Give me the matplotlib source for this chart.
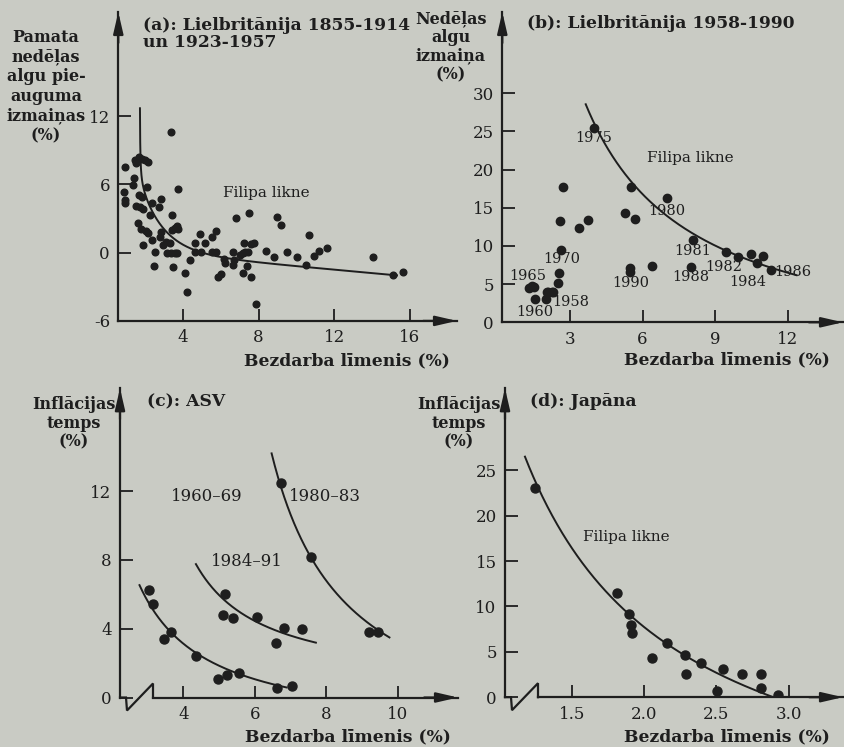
import numpy as np
import matplotlib
matplotlib.use("Agg")
import matplotlib.pyplot as plt

plt.rcParams["font.family"] = ["DejaVu Serif"]
plt.rcParams["axes.unicode_minus"] = False

W, H = 845, 747
BG = "#c9cbc4"
INK = "#1e1e1e"

# ---------------- data ----------------
# (a) UK 1855-1914 and 1923-1957: unemployment (%) vs change in basic weekly wages (%)
uk_early_unemp = [0.94, 0.87, 0.94, 0.94, 1.40, 1.34, 1.47, 1.52, 1.64, 1.79,
                  1.96, 2.14, 1.64, 1.79, 2.10, 1.52, 1.70, 1.87, 2.32, 2.81,
                  2.70, 2.23, 1.61, 1.75, 2.05, 2.14, 1.87, 2.32, 2.49, 2.46,
                  2.81, 2.76, 2.93, 3.11, 3.29, 3.38, 3.55, 3.69, 3.73, 3.41,
                  3.34, 3.73, 3.16, 3.34, 3.55, 3.69, 3.46, 4.08, 4.22, 4.35,
                  4.65, 4.93, 4.88, 4.65, 5.14, 5.53, 5.76, 5.53, 5.76, 5.85,
                  5.99, 6.17, 6.20, 6.64, 6.70, 7.00, 7.17, 6.80, 7.51, 8.96,
                  9.19, 10.69, 6.66, 7.23, 7.58, 7.76, 7.28, 7.45, 7.19, 7.58,
                  7.40, 8.39, 8.82, 9.52, 10.05, 10.51, 10.94, 11.22, 11.64, 14.04,
                  15.10, 15.67, 7.86]
uk_early_wage = [7.55, 5.35, 4.62, 4.33, 6.53, 5.94, 8.14, 7.84, 8.43, 8.20,
                 8.14, 7.99, 5.06, 4.91, 5.79, 4.09, 3.98, 3.80, 4.39, 4.68,
                 3.98, 3.30, 2.63, 2.04, 1.93, 1.69, 0.67, 1.11, 0.08, -1.18,
                 1.84, 1.40, 0.67, 0.96, 0.81, 1.99, 2.13, 2.34, 2.04, 3.30,
                 10.57, 5.56, -0.01, -0.01, -0.01, -0.01, -1.29, -1.76, -3.46, -0.65,
                 0.08, 0.08, 1.61, 0.87, 0.87, 1.40, 1.93, 0.08, 0.08, -2.11,
                 -1.88, -0.59, -0.94, 0.08, -0.65, -0.21, -0.06, 3.01, 3.45, 3.10,
                 2.43, 1.55, -1.09, 0.87, 0.73, 0.82, 0.08, 0.08, -1.76, -2.12,
                 -1.18, 0.14, -0.42, 0.08, -0.36, -1.09, -0.30, 0.14, 0.38, -0.36,
                 -1.97, -1.73, -4.55]

# (b) UK 1958-1990
uk_late_unemp = [1.32, 1.42, 1.51, 1.55, 2.04, 2.11, 2.24, 2.31, 2.01, 2.52,
                 2.55, 2.62, 2.59, 2.70, 3.39, 3.76, 3.98, 5.28, 5.51, 5.69,
                 5.48, 5.48, 6.40, 7.02, 8.07, 7.99, 9.45, 9.96, 10.47, 10.72,
                 10.97, 11.31]
uk_late_wage = [4.45, 4.76, 4.67, 3.06, 3.93, 4.02, 4.02, 3.93, 3.06, 5.11,
                6.42, 9.48, 13.23, 17.77, 12.40, 13.41, 25.50, 14.28, 17.77, 13.49,
                7.07, 6.64, 7.42, 16.24, 10.79, 7.21, 9.17, 8.60, 8.91, 7.73,
                8.69, 6.81]
uk_late_years = ["1965", "1960", "1958", "1970", "1975", "1990", "1980",
                 "1981", "1988", "1982", "1984", "1986"]
uk_late_year_pos = [(1.24, 6.07), (1.55, 1.40), (3.04, 2.71), (2.66, 8.25),
                    (3.99, 24.1), (5.51, 5.20), (7.02, 14.6), (8.07, 9.39),
                    (7.99, 5.90), (9.34, 7.29), (10.37, 5.33), (12.23, 6.64)]

# (c) USA: unemployment (%) vs inflation (%)
us_6069_unemp = [3.05, 3.14, 3.47, 3.64, 4.35, 4.98, 5.21, 5.57, 6.61, 7.03]
us_6069_infl = [6.25, 5.42, 3.38, 3.83, 2.41, 1.06, 1.31, 1.40, 0.53, 0.67]
us_8491_unemp = [5.16, 5.10, 5.40, 6.07, 6.58, 6.82, 7.33]
us_8491_infl = [6.02, 4.80, 4.60, 4.66, 3.15, 4.02, 3.97]
us_8083_unemp = [6.73, 7.57, 9.21, 9.46]
us_8083_infl = [12.45, 8.15, 3.79, 3.79]

# (d) Japan
jp_unemp = [1.243, 1.813, 1.894, 1.906, 1.915, 2.056, 2.155, 2.282, 2.287, 2.393,
            2.501, 2.548, 2.675, 2.809, 2.809, 2.929]
jp_infl = [23.02, 11.52, 9.14, 7.97, 7.05, 4.29, 5.94, 4.66, 2.53, 3.81,
           0.69, 3.08, 2.53, 2.56, 0.98, 0.25]

# fitted Phillips curves
def curve_a(x):
    return 0.29 - 0.15 * x + 5.4 * np.exp(-0.8 * (x - 1.82)) + 0.12 / (x - 1.69)

def curve_b(x):
    return -5.0 + 146.0 / (x + 0.7)

def curve_c60(x):
    return -2.19 + 16.75 / (x - 0.85)

def curve_c84(x):
    return 0.54 + 14.07 / (x - 2.4)

def curve_c80(x):
    return -3.22 + 36.05 / (x - 4.4)

def curve_d(x):
    return -16.22 + 45.0 / (x - 0.12)


# ---------------- figure ----------------
fig = plt.figure(figsize=(W / 100, H / 100), dpi=100, facecolor=BG)


def panel(left, top, right, bottom):
    ax = fig.add_axes([left / W, 1 - bottom / H, (right - left) / W, (bottom - top) / H])
    ax.set_facecolor("none")
    for s in ("top", "right"):
        ax.spines[s].set_visible(False)
    for s in ("left", "bottom"):
        ax.spines[s].set_color(INK)
        ax.spines[s].set_linewidth(1.6)
    ax.tick_params(direction="in", length=9, width=1.3, colors=INK,
                   labelsize=12, pad=6)
    return ax


def arrows(ax):
    style = "-|>,head_length=1.3,head_width=0.3"
    kw = dict(arrowstyle=style, color=INK, lw=1.6, shrinkA=0, shrinkB=0)
    ax.annotate("", xy=(0, 1), xytext=(0, 0.9), xycoords="axes fraction",
                arrowprops=kw, annotation_clip=False)
    ax.annotate("", xy=(1, 0), xytext=(0.9, 0), xycoords="axes fraction",
                arrowprops=kw, annotation_clip=False)


def axis_break(ax, w_px, h_px):
    # broken x-axis: zigzag between the vertical axis and the scale
    bx = np.array([0, 6, 7, 33, 33]) / w_px
    by = np.array([0, 0, -13, 14, 0]) / h_px
    ax.plot(bx, by, color=INK, lw=1.6, transform=ax.transAxes, clip_on=False,
            solid_joinstyle="miter")
    ax.spines["bottom"].set_visible(False)
    ax.plot([33 / w_px, 1], [0, 0], color=INK, lw=1.6, transform=ax.transAxes,
            clip_on=False)


def fig_text(px, py, s, **kw):
    kw.setdefault("color", INK)
    fig.text(px / W, 1 - py / H, s, **kw)


dot = dict(color=INK, linestyle="none", marker="o")

# ---- (a)
ax = panel(118.3, 12, 457, 320.9)
ax.set_xlim(0.56, 18.51)
ax.set_ylim(-6, 21.14)
ax.set_xticks([4, 8, 12, 16])
ax.set_yticks([-6, 0, 6, 12])
ax.plot(uk_early_unemp, uk_early_wage, markersize=4.8, **dot)
xa = 1.69 + np.geomspace(0.004, 13.64, 900)
ya = curve_a(xa)
keep = ya <= 12.7
ax.plot(xa[keep], ya[keep], color=INK, lw=1.4)
ax.text(8.43, 5.26, "Filipa likne", fontsize=11, ha="center", va="center", color=INK)
arrows(ax)

# ---- (b)
ax = panel(502.3, 12, 843, 322.3)
ax.set_xlim(0.2, 14.29)
ax.set_ylim(0, 40.65)
ax.set_xticks([3, 6, 9, 12])
ax.set_yticks([0, 5, 10, 15, 20, 25, 30])
ax.plot(uk_late_unemp, uk_late_wage, markersize=6.0, **dot)
xb = np.linspace(3.65, 12.37, 300)
ax.plot(xb, curve_b(xb), color=INK, lw=1.4)
for yr, (tx, ty) in zip(uk_late_years, uk_late_year_pos):
    ax.text(tx, ty, yr, fontsize=10.5, ha="center", va="center", color=INK)
ax.text(7.96, 21.5, "Filipa likne", fontsize=11, ha="center", va="center", color=INK)
arrows(ax)

# ---- (c)
ax = panel(120, 388.3, 458, 697.5)
ax.set_xlim(2.224, 11.69)
ax.set_ylim(0, 17.98)
ax.set_xticks([4, 6, 8, 10])
ax.set_yticks([0, 4, 8, 12])
for ux, uy in ((us_6069_unemp, us_6069_infl), (us_8491_unemp, us_8491_infl),
               (us_8083_unemp, us_8083_infl)):
    ax.plot(ux, uy, markersize=6.5, **dot)
for f, lo, hi in ((curve_c60, 2.77, 6.89), (curve_c84, 4.35, 7.71),
                  (curve_c80, 6.47, 9.77)):
    xc = np.linspace(lo, hi, 300)
    ax.plot(xc, f(xc), color=INK, lw=1.4)
ax.text(4.65, 11.71, "1960–69", fontsize=12, ha="center", va="center", color=INK)
ax.text(7.97, 11.71, "1980–83", fontsize=12, ha="center", va="center", color=INK)
ax.text(5.77, 7.90, "1984–91", fontsize=12, ha="center", va="center", color=INK)
axis_break(ax, 338, 309.2)
arrows(ax)

# ---- (d)
ax = panel(505, 388.3, 843, 697.2)
ax.set_xlim(1.0347, 3.377)
ax.set_ylim(0, 34.05)
ax.set_xticks([1.5, 2.0, 2.5, 3.0])
ax.set_xticklabels(["1.5", "2.0", "2.5", "3.0"])
ax.set_yticks([0, 5, 10, 15, 20, 25])
ax.plot(jp_unemp, jp_infl, markersize=6.5, **dot)
xd = np.linspace(1.173, 2.894, 300)
ax.plot(xd, curve_d(xd), color=INK, lw=1.4)
ax.text(1.878, 17.7, "Filipa likne", fontsize=11, ha="center", va="center", color=INK)
axis_break(ax, 338, 308.9)
arrows(ax)

# ---------------- titles and axis captions ----------------
bold = dict(fontweight="bold", fontsize=12.3)
lbl = dict(fontweight="bold", fontsize=11.5)
fig_text(143, 34, "(a): Lielbritānija 1855-1914\nun 1923-1957", ha="left", va="center",
         linespacing=1.0, **bold)
fig_text(527, 23, "(b): Lielbritānija 1958-1990", ha="left", va="center", **bold)
fig_text(147, 402, "(c): ASV", ha="left", va="center", **bold)
fig_text(530, 402, "(d): Japāna", ha="left", va="center", **bold)

fig_text(46, 86.5, "Pamata\nnedēļas\nalgu pie-\nauguma\nizmaiņas\n(%)", ha="center",
         va="center", multialignment="center", linespacing=1.2, **lbl)
fig_text(451, 47, "Nedēļas\nalgu\nizmaiņa\n(%)", ha="center", va="center",
         multialignment="center", linespacing=1.12, **lbl)
fig_text(73.5, 423, "Inflācijas\ntemps\n(%)", ha="center", va="center",
         multialignment="center", linespacing=1.15, **lbl)
fig_text(459, 423, "Inflācijas\ntemps\n(%)", ha="center", va="center",
         multialignment="center", linespacing=1.15, **lbl)

for rx, cy in ((450, 361), (830, 360), (451, 737), (830, 737)):
    fig_text(rx, cy, "Bezdarba līmenis (%)", ha="right", va="center", **bold)

fig.savefig("out.png", dpi=100, facecolor=BG)
